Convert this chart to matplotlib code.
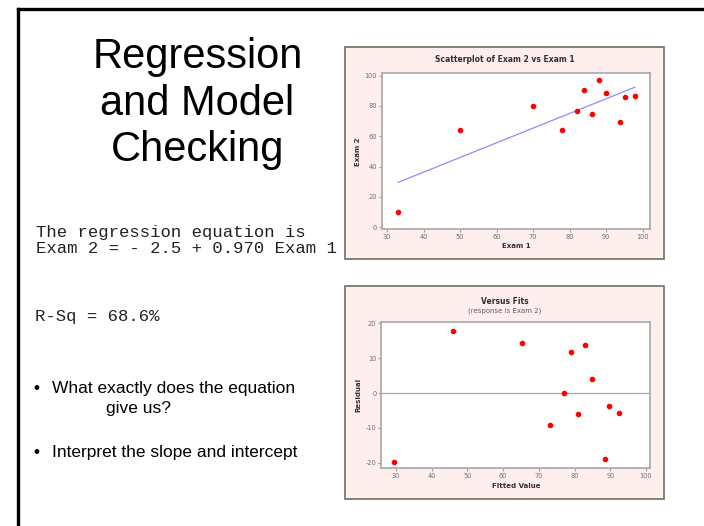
import matplotlib.pyplot as plt
from matplotlib.patches import Rectangle
from matplotlib.lines import Line2D

plt.rcParams['axes.unicode_minus'] = False

# data
exam1 = [33, 50, 70, 78, 82, 84, 86, 88, 90, 93.8, 95, 97.8]
exam2 = [10, 64, 80, 64, 76.7, 90.8, 75, 96.9, 88.8, 69.7, 85.9, 86.8]
intercept = -2.5
slope = 0.970

fitted = [29.5, 46.0, 65.4, 73.2, 77.0, 79.0, 80.9, 82.9, 84.8, 88.5, 89.7, 92.4]
resid = [-19.7, 17.9, 14.3, -9.2, -0.1, 11.8, -6.0, 13.9, 4.1, -18.9, -3.7, -5.7]

xticks = [30, 40, 50, 60, 70, 80, 90, 100]
top_yticks = [0, 20, 40, 60, 80, 100]
res_yticks = [-20, -10, 0, 10, 20]

W, H = 704, 526
fig = plt.figure(figsize=(W / 100, H / 100), dpi=100)


def rect(l, t, r, b):
    return [l / W, 1 - b / H, (r - l) / W, (b - t) / H]


# slide frame (left and top edges visible)
fig.add_artist(Line2D([17.5 / W, 17.5 / W], [0, 1 - 8.5 / H], color='black', lw=2.4))
fig.add_artist(Line2D([17.5 / W, 1], [1 - 8.5 / H, 1 - 8.5 / H], color='black', lw=2.4))

# slide title, one line at a time
for txt, y in [('Regression', 68), ('and Model', 115), ('Checking', 161.5)]:
    fig.text(197.5 / W, 1 - y / H, txt, ha='center', va='baseline', fontsize=30, family='Liberation Sans')

mono = dict(family='Liberation Mono', fontsize=12.4, va='center', ha='left', color='#222222')
fig.text(36 / W, 1 - 232 / H, 'The regression equation is', **mono)
fig.text(36 / W, 1 - 248.5 / H, 'Exam 2 = - 2.5 + 0.970 Exam 1', **mono)
fig.text(35 / W, 1 - 317 / H, 'R-Sq = 68.6%', **mono)
sans = dict(family='Liberation Sans', fontsize=12.5, va='center', ha='left')
fig.text(33 / W, 1 - 388 / H, '\u2022', **sans)
fig.text(51.5 / W, 1 - 388 / H, 'What exactly does the equation', **sans)
fig.text(106 / W, 1 - 408 / H, 'give us?', **sans)
fig.text(33 / W, 1 - 452 / H, '\u2022', **sans)
fig.text(51.5 / W, 1 - 452 / H, 'Interpret the slope and intercept', **sans)

pink = '#FFEEEE'
edge = '#707060'


def panel(t, b):
    l, r = 344.5, 664.3
    fig.add_artist(Rectangle((l / W, 1 - b / H), (r - l) / W, (b - t) / H, transform=fig.transFigure,
                             facecolor=pink, edgecolor=edge, lw=1.2, zorder=0))


def style(ax):
    for s in ax.spines.values():
        s.set_color('#A8A8A8')
        s.set_linewidth(1.2)
    ax.tick_params(labelsize=4.8, colors='#A0A0A0', labelcolor='#707070', length=2, width=0.8, pad=1.5)


# scatterplot
panel(46.7, 259)
ax1 = fig.add_axes(rect(382, 72.7, 649.7, 229.3))
ax1.scatter(exam1, exam2, s=9, color='red', zorder=3)
lx = [min(exam1), max(exam1)]
ax1.plot(lx, [intercept + slope * v for v in lx], color='#8C8CFF', lw=0.9)
ax1.set_xlim(28.6, 101.9)
ax1.set_ylim(-1.5, 102)
ax1.set_xticks(xticks)
ax1.set_yticks(top_yticks)
style(ax1)
fig.text(504.4 / W, 1 - 59 / H, 'Scatterplot of Exam 2 vs Exam 1', ha='center', va='center',
         fontsize=5.5, fontweight='bold', color='#303030')
fig.text(516 / W, 1 - 246.5 / H, 'Exam 1', ha='center', va='center', fontsize=5, fontweight='bold', color='#303030')
fig.text(358 / W, 1 - 152 / H, 'Exam 2', ha='center', va='center', rotation=90, fontsize=5,
         fontweight='bold', color='#303030')

# residuals versus fits
panel(285.5, 499)
ax2 = fig.add_axes(rect(381.3, 321.7, 650, 468.3))
ax2.scatter(fitted, resid, s=9, color='red', zorder=3)
ax2.axhline(0, color='#A8A8A8', lw=0.9)
ax2.set_xlim(25.9, 101.1)
ax2.set_ylim(-21.6, 20.46)
ax2.set_xticks(xticks)
ax2.set_yticks(res_yticks)
style(ax2)
fig.text(504.4 / W, 1 - 301 / H, 'Versus Fits', ha='center', va='center', fontsize=5.5,
         fontweight='bold', color='#303030')
fig.text(504.4 / W, 1 - 310.7 / H, '(response is Exam 2)', ha='center', va='center', fontsize=5, color='#606060')
fig.text(516 / W, 1 - 486 / H, 'Fitted Value', ha='center', va='center', fontsize=5, fontweight='bold', color='#303030')
fig.text(358 / W, 1 - 395 / H, 'Residual', ha='center', va='center', rotation=90, fontsize=5,
         fontweight='bold', color='#303030')

fig.savefig('out.png', dpi=100)
